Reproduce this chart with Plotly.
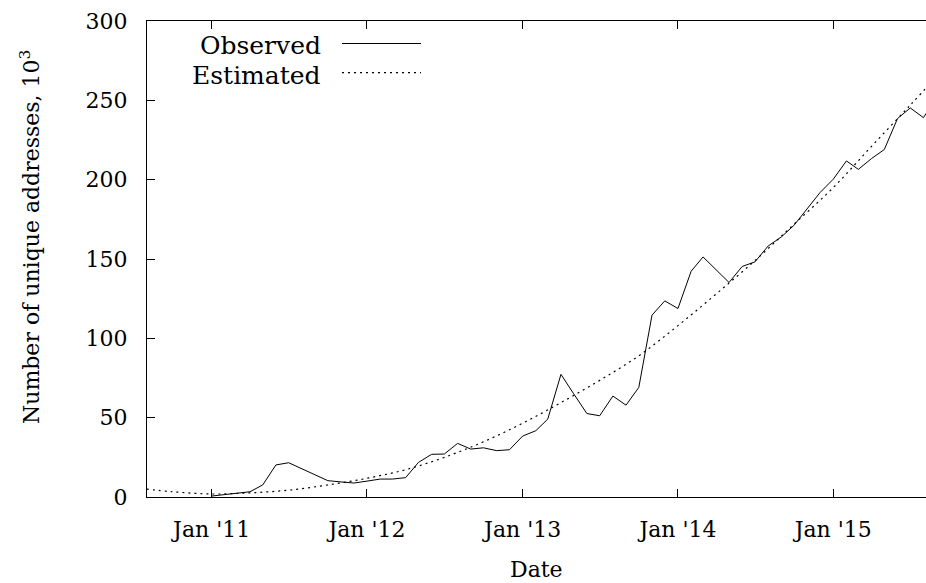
import plotly.graph_objects as go

# Monthly count of observed unique addresses (thousands)
obs_dates = [
    "2011-01-01", "2011-02-01", "2011-03-01", "2011-04-01", "2011-05-01", "2011-06-01",
    "2011-07-01", "2011-08-01", "2011-09-01", "2011-10-01", "2011-11-01", "2011-12-01",
    "2012-01-01", "2012-02-01", "2012-03-01", "2012-04-01", "2012-05-01", "2012-06-01",
    "2012-07-01", "2012-08-01", "2012-09-01", "2012-10-01", "2012-11-01", "2012-12-01",
    "2013-01-01", "2013-02-01", "2013-03-01", "2013-04-01", "2013-05-01", "2013-06-01",
    "2013-07-01", "2013-08-01", "2013-09-01", "2013-10-01", "2013-11-01", "2013-12-01",
    "2014-01-01", "2014-02-01", "2014-03-01", "2014-04-01", "2014-05-01", "2014-06-01",
    "2014-07-01", "2014-08-01", "2014-09-01", "2014-10-01", "2014-11-01", "2014-12-01",
    "2015-01-01", "2015-02-01", "2015-03-01", "2015-04-01", "2015-05-01", "2015-06-01",
    "2015-07-01", "2015-08-01", "2015-09-01",
]
obs_values = [
    0.6, 1.5, 2.4, 3.3, 7.6, 20.2,
    21.6, 17.8, 14.0, 10.3, 9.5, 8.8,
    10.0, 11.3, 11.3, 12.2, 21.8, 26.9,
    27.1, 33.8, 30.2, 31.0, 29.2, 29.8,
    38.4, 41.8, 49.1, 77.3, 65.0, 52.6,
    51.2, 63.6, 57.9, 69.1, 114.6, 123.6,
    118.8, 142.3, 151.3, 143.3, 135.2, 145.3,
    148.2, 158.2, 163.9, 171.3, 181.4, 191.9,
    200.3, 211.8, 206.5, 213.3, 219.0, 238.5,
    245.2, 239.1, 252.0,
]

# Fitted trend (thousands)
est_dates = [
    "2010-08-01", "2010-10-01", "2011-01-01", "2011-04-01", "2011-07-01", "2011-10-01",
    "2012-01-01", "2012-04-01", "2012-07-01", "2012-10-01", "2013-01-01", "2013-04-01",
    "2013-07-01", "2013-10-01", "2014-01-01", "2014-04-01", "2014-07-01", "2014-10-01",
    "2015-01-01", "2015-04-01", "2015-07-01", "2015-09-01",
]
est_values = [
    5.0, 3.3, 1.9, 2.6, 4.3, 7.6,
    11.8, 17.2, 25.0, 34.8, 46.5, 59.5,
    73.5, 89.0, 108.0, 128.0, 149.0, 172.0,
    195.0, 221.0, 247.0, 265.0,
]

tick_vals = ["2011-01-01", "2012-01-01", "2013-01-01", "2014-01-01", "2015-01-01"]
tick_text = ["Jan '11", "Jan '12", "Jan '13", "Jan '14", "Jan '15"]

FONT = "DejaVu Serif"
SIZE = 22
KEY_SIZE = 25
W, H = 926, 583
L, R, T, B = 147, 0, 21, 86
PW, PH = W - L - R, H - T - B


def px(x):
    return (x - L) / PW


def py(y):
    return (H - B - y) / PH


fig = go.Figure()
fig.add_trace(go.Scatter(
    x=obs_dates, y=obs_values, mode="lines", name="Observed",
    line=dict(color="black", width=1), showlegend=False,
))
fig.add_trace(go.Scatter(
    x=est_dates, y=est_values, mode="lines", name="Estimated",
    line=dict(color="black", width=1.2, dash="2px,4px", shape="spline"),
    showlegend=False,
))

axis_common = dict(
    showline=True, linecolor="black", linewidth=1.3,
    ticks="inside", ticklen=8, tickwidth=1.3, tickcolor="black",
    showgrid=False, zeroline=False,
    tickfont=dict(family=FONT, size=SIZE, color="black"),
)

fig.update_xaxes(
    type="date", range=["2010-08-02", "2015-08-07"],
    tickvals=tick_vals, ticktext=tick_text, mirror="ticks",
    ticklabelstandoff=12, **axis_common,
)
fig.update_yaxes(
    range=[0, 300], dtick=50, mirror=False,
    ticklabelstandoff=14, **axis_common,
)

text_font = dict(family=FONT, size=SIZE, color="black")
key_font = dict(family=FONT, size=KEY_SIZE, color="black")
annotations = [
    dict(text="Date", x=px(536), y=py(569), xref="paper", yref="paper", showarrow=False,
         xanchor="center", yanchor="middle", font=text_font),
    dict(text="Number of unique addresses, 10<sup>3</sup>", textangle=-90,
         x=px(30), y=py(237), xref="paper", yref="paper", showarrow=False,
         xanchor="center", yanchor="middle", font=text_font),
    dict(text="Observed", x=px(323), y=py(45), xref="paper", yref="paper",
         xanchor="right", yanchor="middle", showarrow=False, font=key_font),
    dict(text="Estimated", x=px(323), y=py(75), xref="paper", yref="paper",
         xanchor="right", yanchor="middle", showarrow=False, font=key_font),
]

shapes = [
    dict(type="line", xref="paper", yref="paper", x0=px(342), x1=px(421),
         y0=py(43.5), y1=py(43.5), line=dict(color="black", width=1)),
    dict(type="line", xref="paper", yref="paper", x0=px(342), x1=px(421),
         y0=py(72.7), y1=py(72.7), line=dict(color="black", width=1.2, dash="2px,4px")),
]

fig.update_layout(
    width=W, height=H,
    margin=dict(l=L, r=R, t=T, b=B, pad=0),
    paper_bgcolor="white", plot_bgcolor="white",
    font=dict(family=FONT, size=SIZE, color="black"),
    annotations=annotations, shapes=shapes,
    showlegend=False,
)

fig.write_html("out.html")
